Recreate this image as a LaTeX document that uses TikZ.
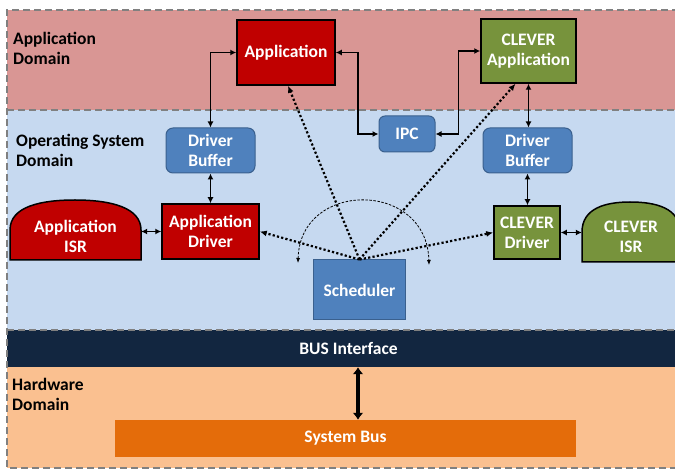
\documentclass[tikz,border=0pt]{standalone}
\usepackage{fontspec}
\setmainfont{Carlito}
\usetikzlibrary{arrows.meta}

\definecolor{appdom}{RGB}{217,150,148}
\definecolor{osdom}{RGB}{198,217,240}
\definecolor{hwdom}{RGB}{250,192,144}
\definecolor{busnavy}{RGB}{18,38,64}
\definecolor{appred}{RGB}{192,0,0}
\definecolor{clevergreen}{RGB}{119,147,60}
\definecolor{osblue}{RGB}{79,129,189}
\definecolor{osbluedark}{RGB}{58,96,142}
\definecolor{busorange}{RGB}{228,108,10}
\definecolor{domgray}{RGB}{128,128,128}

\begin{document}
\begin{tikzpicture}[x=1pt,y=-1pt,
  txt/.style={font=\bfseries\fontsize{17.5}{20}\selectfont, align=center, inner sep=0pt},
  domlabel/.style={txt, align=left, anchor=west, text=black},
  redbox/.style={txt, draw=black, line width=1.5pt, fill=appred, text=white},
  greenbox/.style={txt, draw=black, line width=1.5pt, fill=clevergreen, text=white},
  bluebox/.style={txt, draw=osbluedark, line width=1pt, fill=osblue, text=white, rounded corners=7pt},
  domborder/.style={draw=domgray, line width=2pt, dash pattern=on 7pt off 4pt},
  conn/.style={draw=black, line width=1.8pt, {Latex[length=6pt,width=6pt]}-{Latex[length=6pt,width=6pt]}},
  sched/.style={draw=black, line width=2.2pt, dash pattern=on 2.2pt off 2.2pt, -{Latex[length=7pt,width=6pt]}},
  cycle/.style={draw=black, line width=0.8pt, dash pattern=on 2.5pt off 1.5pt, {Latex[length=5pt,width=4pt]}-{Latex[length=5pt,width=4pt]}}
]
\useasboundingbox (0,0) rectangle (675,470);

% domain bands
\fill[appdom] (7,10) rectangle (690,110);
\fill[osdom] (7,110) rectangle (690,330);
\fill[hwdom] (7,330) rectangle (690,468);
\node[txt, fill=busnavy, text=white, minimum width=683, minimum height=37] (busif) at (348.5,348.5) {BUS Interface};
\draw[domborder] (690,10) -- (7,10) -- (7,468) -- (690,468);
\draw[domborder] (7,110) -- (690,110);
\draw[domborder] (7,330) -- (690,330);

% domain labels
\node[domlabel] (lapp) at (13,48) {Application\\Domain};
\node[domlabel] (los) at (16,150) {Operating System\\Domain};
\node[domlabel] (lhw) at (12,394) {Hardware\\Domain};

% ISR shapes
\fill[appred, draw=black, line width=1.5pt] (10,260) -- (10,230)
  .. controls (10,206) and (42,200) .. (75,200)
  .. controls (112,200) and (141,208) .. (141,230) -- (141,260) -- cycle;
\node[txt, text=white, minimum width=131] (aisr) at (75.5,236) {Application\\ISR};
\fill[clevergreen, draw=black, line width=1.5pt] (582,262) -- (582,232)
  .. controls (582,208) and (606,202) .. (630,202)
  .. controls (656,202) and (680,208) .. (680,232) -- (680,262) -- cycle;
\node[txt, text=white, minimum width=98] (cisr) at (631,237) {CLEVER\\ISR};

% main blocks
\node[redbox, minimum width=98, minimum height=65] (app) at (286,52.5) {Application};
\node[greenbox, minimum width=95, minimum height=64] (capp) at (528.5,51) {CLEVER\\Application};
\node[bluebox, minimum width=56, minimum height=36, rounded corners=6pt] (ipc) at (407,134) {IPC};
\node[bluebox, minimum width=89, minimum height=45] (db1) at (210.5,150.5) {Driver\\Buffer};
\node[bluebox, minimum width=89, minimum height=45] (db2) at (527.5,150.5) {Driver\\Buffer};
\node[redbox, minimum width=97, minimum height=55] (adrv) at (210.5,231.5) {Application\\Driver};
\node[greenbox, minimum width=66, minimum height=53] (cdrv) at (527,232.5) {CLEVER\\Driver};
\node[txt, draw=osbluedark, line width=1pt, fill=osblue, text=white, minimum width=92, minimum height=60] (sch) at (359.5,290) {Scheduler};
\node[txt, fill=busorange, text=white, minimum width=461, minimum height=37] (sysbus) at (345.5,438.5) {System Bus};

% solid connectors
\draw[conn] (db1.north) |- (app.west);
\draw[conn] (app.east) -- ++(22,0) |- (ipc.west);
\draw[conn] (ipc.east) -- ++(23,0) |- (capp.west);
\draw[conn] (capp.south) -- (capp.south |- db2.north);
\draw[conn] (db1.south) -- (adrv.north);
\draw[conn] (db2.south) -- (db2.south |- cdrv.north);
\draw[conn] (adrv.west -| aisr.east) -- (adrv.west);
\draw[conn] (cdrv.east) -- (cdrv.east -| cisr.west);
\draw[line width=3.5pt, {Latex[length=7pt,width=11pt]}-{Latex[length=7pt,width=11pt]}]
  ([xshift=9.5pt]busif.south) -- ([xshift=12.5pt]sysbus.north);

% scheduler dispatch
\coordinate (hub) at (sch.north);
\draw[sched] (hub) -- ([xshift=2pt]app.south);
\draw[sched] (hub) -- ([xshift=-13pt]capp.south);
\draw[sched] (hub) -- (adrv.east);
\draw[sched] (hub) -- (cdrv.west);

% scheduling cycle
\coordinate (cycL) at (298,263);
\coordinate (cycR) at (429,265);
\draw[cycle] (cycL) .. controls (300,180) and (427,180) .. (cycR);
\end{tikzpicture}
\end{document}
